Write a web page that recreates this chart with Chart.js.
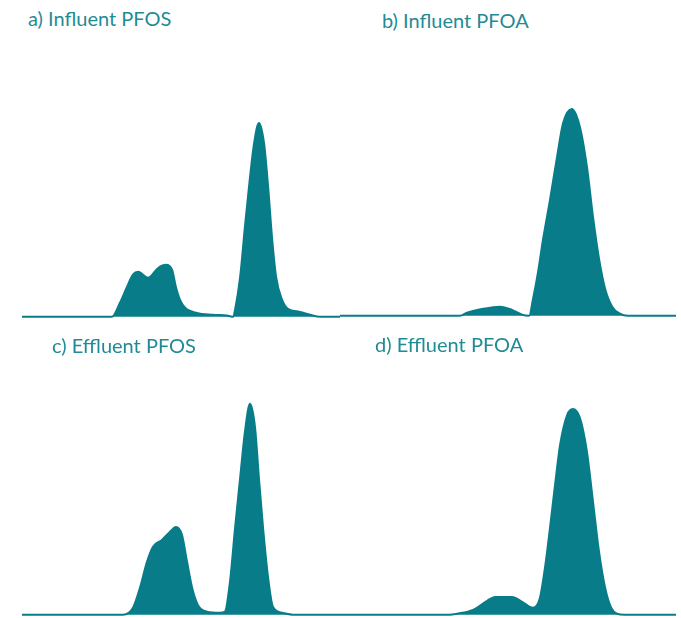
<!DOCTYPE html>
<html>
<head>
<meta charset="utf-8">
<script src="https://cdn.jsdelivr.net/npm/chart.js@4.4.1/dist/chart.umd.min.js"></script>
<style>
  html, body { margin: 0; padding: 0; background: #fff; }
  #wrap { position: relative; width: 681px; height: 618px; overflow: hidden; }
  canvas { position: absolute; }
  .ttl {
    position: absolute;
    font-family: Lato, "Open Sans", sans-serif;
    font-size: 20px;
    line-height: 20px;
    color: #1f8b95;
    white-space: nowrap;
  }
</style>
</head>
<body>
<div id="wrap">
  <canvas id="cA" width="318" height="265" style="left:22px;top:57px"></canvas>
  <canvas id="cB" width="336" height="265" style="left:340px;top:56px"></canvas>
  <canvas id="cC" width="318" height="265" style="left:22px;top:355px"></canvas>
  <canvas id="cD" width="336" height="265" style="left:340px;top:355px"></canvas>
  <div class="ttl" id="tA" style="left:28px;top:8px"></div>
  <div class="ttl" id="tB" style="left:382px;top:10px"></div>
  <div class="ttl" id="tC" style="left:52px;top:335px"></div>
  <div class="ttl" id="tD" style="left:375px;top:334px"></div>
</div>
<script>
// panel titles
const panelTitles = ["a) Influent PFOS", "b) Influent PFOA", "c) Effluent PFOS", "d) Effluent PFOA"];

// retention time (arbitrary min) and relative signal (%)
const influentPfosTime = [0, 2.83, 3.08, 3.30, 3.49, 3.65, 3.96, 4.28, 4.53, 4.72, 4.84, 4.97, 5.13, 5.50, 6.01, 6.48, 6.64, 6.70, 6.86, 7.01, 7.17, 7.30, 7.45, 7.61, 7.74, 7.86, 7.99, 8.18, 8.36, 8.74, 9.06, 9.37, 10];
const influentPfos     = [0, 0, 5.4, 11.5, 16.2, 17.3, 15.0, 18.8, 20.0, 18.1, 11.5, 6.5, 3.5, 1.5, 0.8, 0.4, 0, 2.7, 15.4, 34.6, 53.8, 66.9, 74.6, 66.9, 50.0, 30.8, 15.4, 6.5, 3.1, 1.9, 0.8, 0, 0];

const influentPfoaTime = [0, 3.57, 3.78, 4.26, 4.76, 5.12, 5.42, 5.63, 5.74, 5.89, 6.04, 6.25, 6.46, 6.64, 6.90, 7.14, 7.35, 7.53, 7.71, 7.89, 8.10, 8.33, 8.57, 10];
const influentPfoa     = [0, 0, 1.2, 2.7, 3.5, 2.3, 0.4, 0, 6.2, 16.5, 29.2, 44.6, 61.2, 74.2, 79.6, 72.7, 57.3, 38.1, 21.9, 10.4, 3.5, 0.8, 0, 0];

const effluentPfosTime = [0, 3.18, 3.49, 3.71, 3.93, 4.12, 4.40, 4.65, 4.84, 5.03, 5.19, 5.35, 5.53, 5.82, 6.23, 6.38, 6.54, 6.70, 6.86, 7.01, 7.17, 7.33, 7.45, 7.58, 7.74, 7.89, 8.18, 8.58, 10];
const effluentPfos     = [0, 0, 2.7, 10.4, 20.4, 26.2, 28.8, 31.9, 33.8, 30.8, 20.4, 10.4, 3.8, 1.2, 0.8, 1.2, 12.7, 33.5, 52.7, 70.4, 81.2, 71.9, 52.7, 33.5, 14.2, 3.1, 0.8, 0, 0];

const effluentPfoaTime = [0, 3.27, 3.48, 3.96, 4.38, 4.61, 5.12, 5.42, 5.74, 5.95, 6.10, 6.25, 6.40, 6.55, 6.76, 6.93, 7.14, 7.35, 7.53, 7.71, 7.89, 8.07, 8.24, 8.48, 10];
const effluentPfoa     = [0, 0, 0.4, 1.9, 5.4, 6.9, 6.9, 5.0, 2.7, 6.5, 18.1, 33.5, 50.0, 65.4, 76.9, 79.2, 75.8, 62.7, 43.5, 24.2, 10.4, 2.7, 0.4, 0, 0];

const teal = "#087d89";

function drawTrace(id, times, signal)
{
    let points = times.map((t, i) => ({ x: t, y: signal[i] }));
    return new Chart(document.getElementById(id).getContext("2d"), {
        type: "line",
        data: {
            datasets: [
                {
                    data: points,
                    borderColor: teal,
                    backgroundColor: teal,
                    borderWidth: 2,
                    fill: "origin",
                    pointRadius: 0,
                    cubicInterpolationMode: "monotone",
                },
            ],
        },
        options: {
            responsive: false,
            animation: false,
            layout: { padding: 0 },
            scales: {
                x: { type: "linear", min: 0, max: 10, display: false },
                y: { min: -2, max: 100, display: false },
            },
            plugins: {
                legend: { display: false },
                tooltip: { enabled: false },
            },
        },
    });
}

["tA", "tB", "tC", "tD"].forEach((id, i) =>
{
    document.getElementById(id).textContent = panelTitles[i];
});

drawTrace("cA", influentPfosTime, influentPfos);
drawTrace("cB", influentPfoaTime, influentPfoa);
drawTrace("cC", effluentPfosTime, effluentPfos);
drawTrace("cD", effluentPfoaTime, effluentPfoa);
</script>
</body>
</html>
